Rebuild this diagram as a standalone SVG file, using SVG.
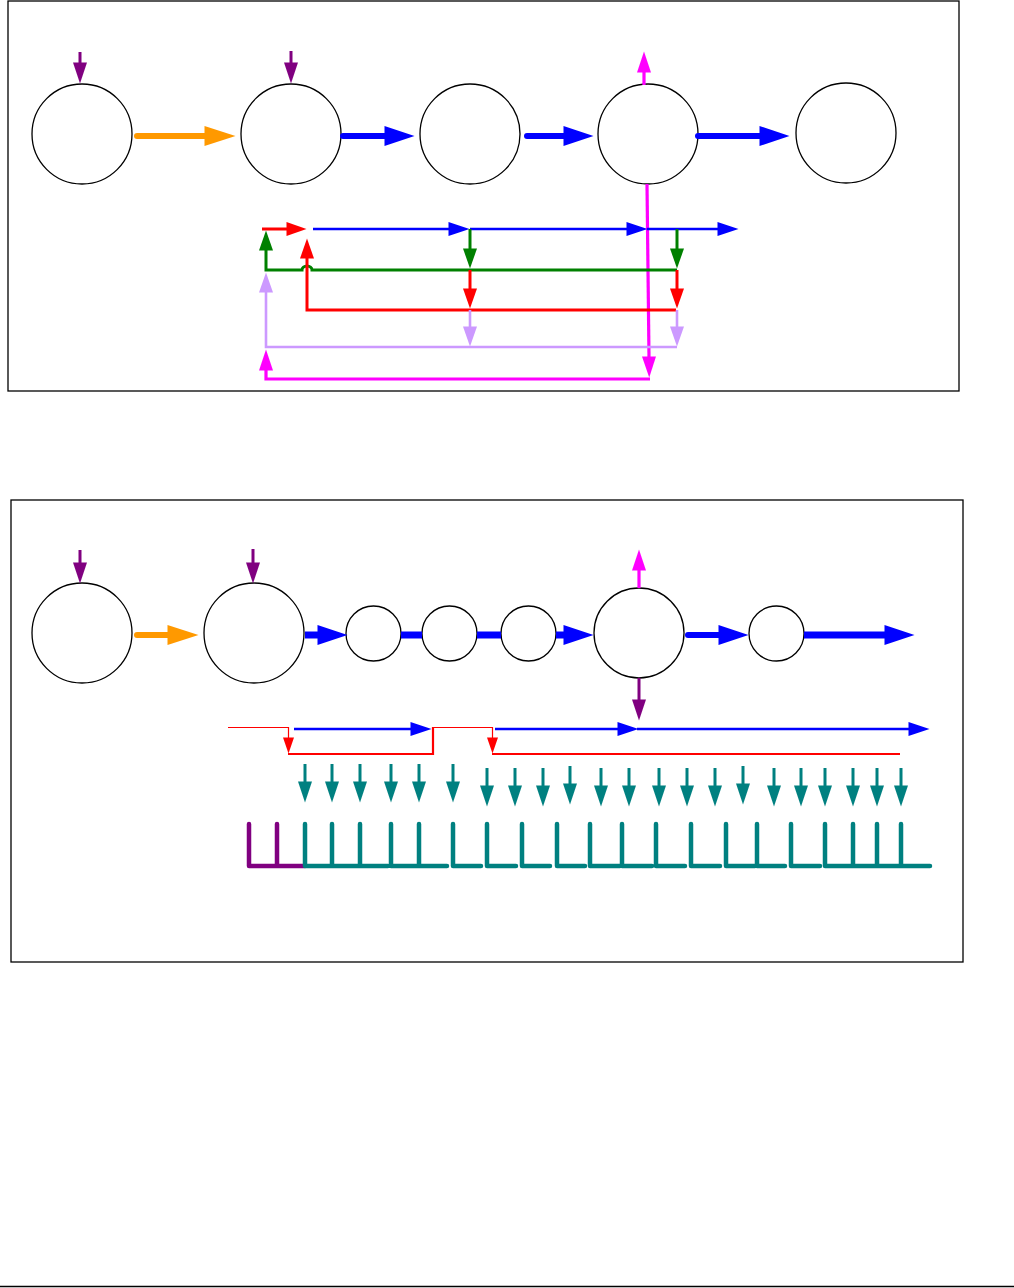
<svg xmlns="http://www.w3.org/2000/svg" width="1014" height="1288" viewBox="0 0 1014 1288">
<style>
.frame{fill:none;stroke:#000;stroke-width:1.3}
.node{fill:#fff;stroke:#000;stroke-width:1.3}
.c{fill:none;stroke-linejoin:miter}
.pur{stroke:#800080;stroke-width:3}
.org{stroke:#FF9900;stroke-width:6;stroke-linecap:round}
.bluT{stroke:#0000FF;stroke-width:6;stroke-linecap:round}
.bluB{stroke:#0000FF;stroke-width:7}
.blu{stroke:#0000FF;stroke-width:2.6}
.mag{stroke:#FF00FF;stroke-width:3.2}
.grn{stroke:#008000;stroke-width:3}
.red{stroke:#FF0000;stroke-width:3}
.redT{stroke:#FF0000;stroke-width:1.2}
.redM{stroke:#FF0000;stroke-width:2.2}
.lav{stroke:#CC99FF;stroke-width:2.6}
.teal{stroke:#008080;stroke-width:3}
.comb{fill:none;stroke:#008080;stroke-width:4.5;stroke-linecap:round;stroke-linejoin:round}
.combP{fill:none;stroke:#800080;stroke-width:4.5;stroke-linecap:round;stroke-linejoin:round}
</style>
<defs>
<marker id="mPur" markerUnits="userSpaceOnUse" markerWidth="21" markerHeight="14" refX="0.5" refY="7" orient="auto" overflow="visible"><path d="M0,0 L21,7 L0,14 z" fill="#800080"/></marker>
<marker id="mOrg" markerUnits="userSpaceOnUse" markerWidth="31" markerHeight="20" refX="0.5" refY="10" orient="auto" overflow="visible"><path d="M0,0 L31,10 L0,20 z" fill="#FF9900"/></marker>
<marker id="mBluBig" markerUnits="userSpaceOnUse" markerWidth="30" markerHeight="20" refX="0.5" refY="10" orient="auto" overflow="visible"><path d="M0,0 L30,10 L0,20 z" fill="#0000FF"/></marker>
<marker id="mBlu" markerUnits="userSpaceOnUse" markerWidth="21" markerHeight="14" refX="0.5" refY="7" orient="auto" overflow="visible"><path d="M0,0 L21,7 L0,14 z" fill="#0000FF"/></marker>
<marker id="mMag" markerUnits="userSpaceOnUse" markerWidth="21" markerHeight="14" refX="0.5" refY="7" orient="auto" overflow="visible"><path d="M0,0 L21,7 L0,14 z" fill="#FF00FF"/></marker>
<marker id="mGrn" markerUnits="userSpaceOnUse" markerWidth="20" markerHeight="14" refX="0.5" refY="7" orient="auto" overflow="visible"><path d="M0,0 L20,7 L0,14 z" fill="#008000"/></marker>
<marker id="mRed" markerUnits="userSpaceOnUse" markerWidth="20" markerHeight="14" refX="0.5" refY="7" orient="auto" overflow="visible"><path d="M0,0 L20,7 L0,14 z" fill="#FF0000"/></marker>
<marker id="mRedS" markerUnits="userSpaceOnUse" markerWidth="16" markerHeight="11" refX="0.5" refY="5.5" orient="auto" overflow="visible"><path d="M0,0 L16,5.5 L0,11 z" fill="#FF0000"/></marker>
<marker id="mLav" markerUnits="userSpaceOnUse" markerWidth="20" markerHeight="14" refX="0.5" refY="7" orient="auto" overflow="visible"><path d="M0,0 L20,7 L0,14 z" fill="#CC99FF"/></marker>
<marker id="mTeal" markerUnits="userSpaceOnUse" markerWidth="21" markerHeight="14" refX="0.5" refY="7" orient="auto" overflow="visible"><path d="M0,0 L21,7 L0,14 z" fill="#008080"/></marker>
</defs>

<!-- frames -->
<rect class="frame" x="8" y="1" width="951" height="390"/>
<rect class="frame" x="11" y="500" width="952" height="462"/>
<line x1="0" y1="1286.5" x2="1014" y2="1286.5" stroke="#000" stroke-width="1.5"/>

<!-- top nodes -->
<g id="t1"><circle class="node" cx="82" cy="134" r="50"/></g>
<g id="t2"><circle class="node" cx="291" cy="134" r="50"/></g>
<g id="t3"><circle class="node" cx="470" cy="134" r="50"/></g>
<g id="t4"><circle class="node" cx="648" cy="134" r="50"/></g>
<g id="t5"><circle class="node" cx="846" cy="133" r="50"/></g>

<!-- bottom nodes -->
<g id="b1"><circle class="node" cx="82" cy="633" r="50"/></g>
<g id="b2"><circle class="node" cx="254" cy="633" r="50"/></g>
<g id="b3"><circle class="node" cx="373.5" cy="633.5" r="27.5"/></g>
<g id="b4"><circle class="node" cx="449.5" cy="633.5" r="27.5"/></g>
<g id="b5"><circle class="node" cx="528.5" cy="633.5" r="27.5"/></g>
<g id="b6"><circle class="node" cx="639" cy="633" r="45"/></g>
<g id="b7"><circle class="node" cx="776.5" cy="633.5" r="27.5"/></g>

<g id="connectors">
<!-- top row -->
<path class="c pur" d="M80,52 V63" marker-end="url(#mPur)"/>
<path class="c pur" d="M291,51 V63" marker-end="url(#mPur)"/>
<path class="c org" d="M137,136 H205" marker-end="url(#mOrg)"/>
<path class="c bluT" d="M343,136 H385" marker-end="url(#mBluBig)"/>
<path class="c bluT" d="M527,136 H564" marker-end="url(#mBluBig)"/>
<path class="c bluT" d="M698,136 H760" marker-end="url(#mBluBig)"/>
<path class="c mag" d="M644,85 V72" marker-end="url(#mMag)"/>
<path class="c mag" d="M647,184 L649,357" marker-end="url(#mMag)"/>
<path class="c mag" d="M650,379 H266 V370" marker-end="url(#mMag)"/>

<!-- top feedback network -->
<path class="c red" d="M262,229 H287" marker-end="url(#mRed)"/>
<path class="c blu" d="M313,229 H449" marker-end="url(#mBlu)"/>
<path class="c blu" d="M470,229 H627" marker-end="url(#mBlu)"/>
<path class="c blu" d="M647,229 H718" marker-end="url(#mBlu)"/>
<path class="c grn" d="M470,229 V249" marker-end="url(#mGrn)"/>
<path class="c grn" d="M677,229 V249" marker-end="url(#mGrn)"/>
<path class="c grn" d="M677,270 H312 A5,4 0 0 0 302,270 H266 V250" marker-end="url(#mGrn)"/>
<path class="c red" d="M470,270 V289" marker-end="url(#mRed)"/>
<path class="c red" d="M677,270 V289" marker-end="url(#mRed)"/>
<path class="c red" d="M676,310 H307 V258" marker-end="url(#mRed)"/>
<path class="c lav" d="M470,310 V327" marker-end="url(#mLav)"/>
<path class="c lav" d="M677,310 V327" marker-end="url(#mLav)"/>
<path class="c lav" d="M677,347 H266 V292" marker-end="url(#mLav)"/>

<!-- bottom row -->
<path class="c pur" d="M80,550 V563" marker-end="url(#mPur)"/>
<path class="c pur" d="M253,549 V563" marker-end="url(#mPur)"/>
<path class="c org" d="M137,635 H168" marker-end="url(#mOrg)"/>
<path class="c bluB" d="M305,635 H318" marker-end="url(#mBluBig)"/>
<path class="c bluB" d="M401,635 H422"/>
<path class="c bluB" d="M477,635 H501"/>
<path class="c bluB" d="M556,635 H564" marker-end="url(#mBluBig)"/>
<path class="c mag" d="M639,588 V570" marker-end="url(#mMag)"/>
<path class="c pur" d="M639,678 V700" marker-end="url(#mPur)"/>
<path class="c bluT" d="M688,635 H719" marker-end="url(#mBluBig)"/>
<path class="c bluB" d="M804,635 H885" marker-end="url(#mBluBig)"/>

<!-- bottom timing lines -->
<path class="c redT" d="M228,727.5 H288.5 V738" marker-end="url(#mRedS)"/>
<path class="c redM" d="M288,754 H433 V727"/>
<path class="c redT" d="M433,727.5 H492.5 V738" marker-end="url(#mRedS)"/>
<path class="c redM" d="M492,754 H900"/>
<path class="c blu" d="M294,729 H411" marker-end="url(#mBlu)"/>
<path class="c blu" d="M495,729 H618" marker-end="url(#mBlu)"/>
<path class="c blu" d="M637,729 H909" marker-end="url(#mBlu)"/>

<!-- teal arrows -->
<path class="c teal" d="M305,764 V782" marker-end="url(#mTeal)"/>
<path class="c teal" d="M332,764 V782" marker-end="url(#mTeal)"/>
<path class="c teal" d="M360,764 V782" marker-end="url(#mTeal)"/>
<path class="c teal" d="M391,764 V782" marker-end="url(#mTeal)"/>
<path class="c teal" d="M419,764 V782" marker-end="url(#mTeal)"/>
<path class="c teal" d="M453,764 V782" marker-end="url(#mTeal)"/>
<path class="c teal" d="M487,768 V786" marker-end="url(#mTeal)"/>
<path class="c teal" d="M515,768 V786" marker-end="url(#mTeal)"/>
<path class="c teal" d="M543,768 V786" marker-end="url(#mTeal)"/>
<path class="c teal" d="M570,766 V784" marker-end="url(#mTeal)"/>
<path class="c teal" d="M601,768 V786" marker-end="url(#mTeal)"/>
<path class="c teal" d="M629,768 V786" marker-end="url(#mTeal)"/>
<path class="c teal" d="M659,768 V786" marker-end="url(#mTeal)"/>
<path class="c teal" d="M687,768 V786" marker-end="url(#mTeal)"/>
<path class="c teal" d="M715,768 V786" marker-end="url(#mTeal)"/>
<path class="c teal" d="M743,766 V784" marker-end="url(#mTeal)"/>
<path class="c teal" d="M774,768 V786" marker-end="url(#mTeal)"/>
<path class="c teal" d="M801,768 V786" marker-end="url(#mTeal)"/>
<path class="c teal" d="M825,768 V786" marker-end="url(#mTeal)"/>
<path class="c teal" d="M853,768 V786" marker-end="url(#mTeal)"/>
<path class="c teal" d="M877,768 V786" marker-end="url(#mTeal)"/>
<path class="c teal" d="M901,768 V786" marker-end="url(#mTeal)"/>

<!-- comb -->
<path class="combP" d="M249,824 V866 H305 M277,824 V866"/>
<path class="comb" d="M305,824 V866 H388 M332,824 V866 M360,824 V866
M391,824 V866 H447 M419,824 V866
M453,824 V866 H481
M487,824 V866 H516
M522,824 V866 H550
M557,824 V866 H585
M590,824 V866 H620
M622,824 V866 H652
M656,824 V866 H685
M691,824 V866 H720
M726,824 V866 H755
M757,824 V866 H785
M791,824 V866 H820
M825,824 V866 H930 M853,824 V866 M877,824 V866 M901,824 V866"/>
</g>
</svg>
